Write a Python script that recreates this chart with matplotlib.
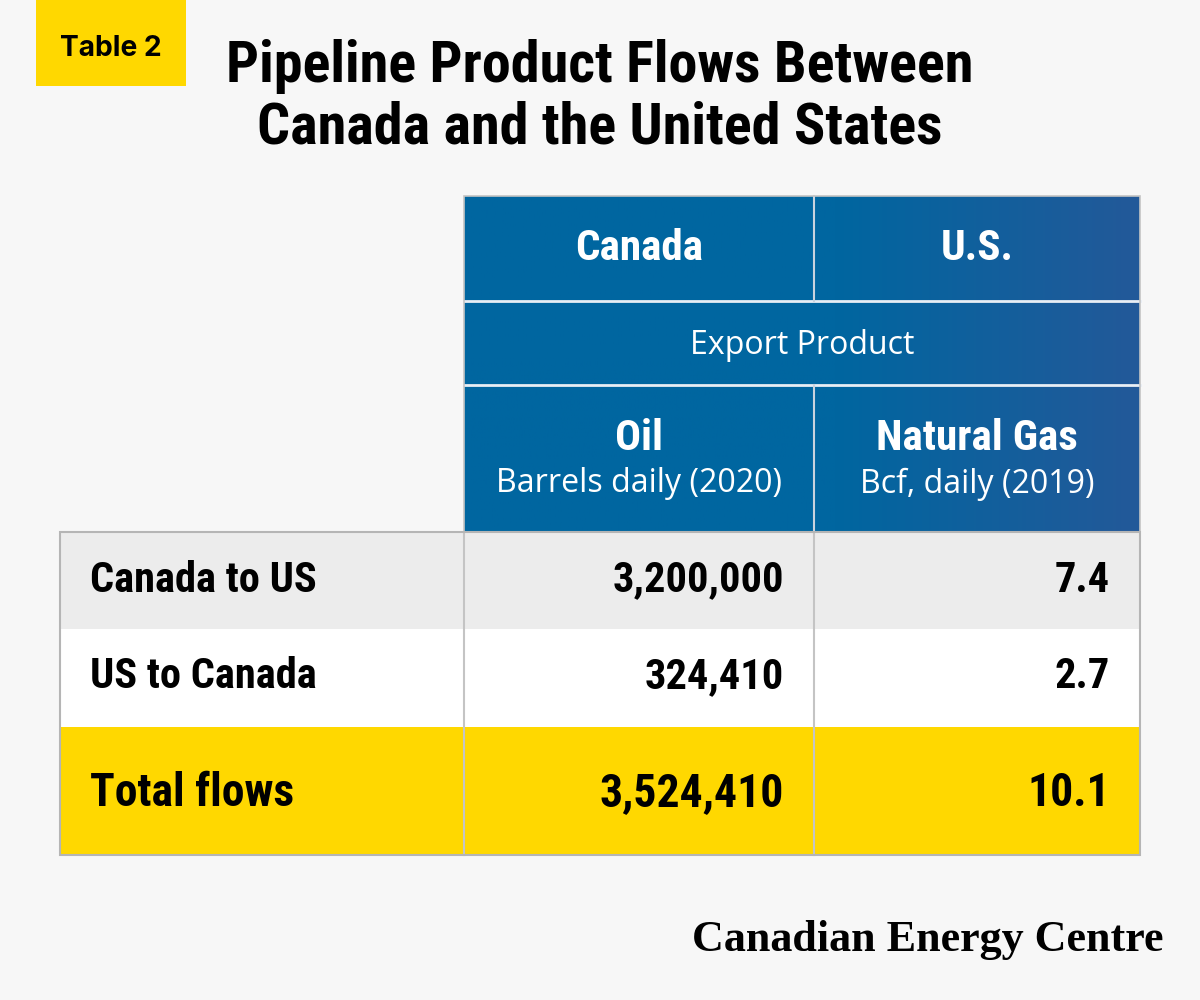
import matplotlib
matplotlib.use("Agg")
import matplotlib.pyplot as plt
from matplotlib import font_manager
from matplotlib.patches import Rectangle
import numpy as np

# table content
col_groups = ["Canada", "U.S."]
subheader = "Export Product"
products = ["Oil", "Natural Gas"]
units = ["Barrels daily (2020)", "Bcf, daily (2019)"]
row_labels = ["Canada to US", "US to Canada", "Total flows"]
oil_values = [3200000, 324410, 3524410]
gas_values = [7.4, 2.7, 10.1]

TITLE_LINES = ["Pipeline Product Flows Between", "Canada and the United States"]
TAG = "Table 2"
SOURCE = "Canadian Energy Centre"

BG = "#f7f7f7"
YELLOW = "#ffd800"
BLUE_L = np.array([0, 102, 160]) / 255
BLUE_R = np.array([35, 89, 153]) / 255
GRID = "#c4c4c4"

installed = {f.name for f in font_manager.fontManager.ttflist}
COND = next((n for n in ["Roboto Condensed", "Liberation Sans Narrow", "Open Sans Condensed",
                         "DejaVu Sans Condensed"] if n in installed), "DejaVu Sans")
SANS = "Open Sans" if "Open Sans" in installed else "DejaVu Sans"
# the original face is narrower than Roboto Condensed; trade a little width for height
COND_BOOST = 1.08

fig = plt.figure(figsize=(12, 10), dpi=100, facecolor=BG)
ax = fig.add_axes([0, 0, 1, 1])
ax.set_xlim(0, 1200)
ax.set_ylim(1000, 0)
ax.axis("off")
renderer = fig.canvas.get_renderer()


def fit(t, width, boost=1.0):
    """Scale a text's font size so it spans `width` pixels."""
    t.set_fontsize(20)
    w = t.get_window_extent(renderer).width
    t.set_fontsize(20 * width / w * boost)
    return t.get_fontsize()


def cond_text(x, y, s, **kw):
    kw.setdefault("fontweight", "bold")
    return ax.text(x, y, s, family=COND, stretch="condensed", va="center", zorder=5, **kw)


# tag box + title
ax.add_patch(Rectangle((36, 0), 150, 86, color=YELLOW, lw=0))
t = ax.text(111, 49, TAG, ha="center", va="center", fontweight="bold",
            family=["Inter", "DejaVu Sans"])
fit(t, 102)
t1 = cond_text(600, 66, TITLE_LINES[0], ha="center")
fs = fit(t1, 690, COND_BOOST)
t2 = cond_text(600, 128, TITLE_LINES[1], ha="center", fontsize=fs)

# column geometry
x_left, x_mid, x_c2, x_right = 60, 464, 814, 1140
y_head = [196, 301, 385, 532]
y_rows = [532, 629, 727, 855]

# blue header with horizontal gradient toward the right edge
grad = np.linspace(0, 1, 256)
grad = np.clip((grad - 0.55) / 0.45, 0, 1)
img = BLUE_L[None, :] * (1 - grad[:, None]) + BLUE_R[None, :] * grad[:, None]
ax.imshow(img[None, :, :], extent=(x_mid, x_right, y_head[-1], y_head[0]),
          aspect="auto", zorder=1)

for y in y_head[1:3]:
    ax.plot([x_mid, x_right], [y, y], color="#e8eef5", lw=2, zorder=3)
for y0, y1 in [(y_head[0], y_head[1]), (y_head[2], y_head[3])]:
    ax.plot([x_c2, x_c2], [y0, y1], color="#c9d3de", lw=1.5, zorder=3)
ax.add_patch(Rectangle((x_mid, y_head[0]), x_right - x_mid, y_head[-1] - y_head[0],
                       fill=False, ec=GRID, lw=1.2, zorder=4))

centers = [(x_mid + x_c2) / 2, (x_c2 + x_right) / 2]
h = cond_text(centers[0], 248, col_groups[0], ha="center", color="white")
hs = fit(h, 119, COND_BOOST)
cond_text(centers[1], 248, col_groups[1], ha="center", color="white", fontsize=hs)

e = ax.text((x_mid + x_right) / 2, 345, subheader, ha="center", va="center", color="white",
            family=SANS, zorder=5)
us = fit(e, 224)
for cx, prod, unit in zip(centers, products, units):
    cond_text(cx, 438, prod, ha="center", color="white", fontsize=hs)
    ax.text(cx, 484, unit, ha="center", va="center", color="white", fontsize=us,
            family=SANS, zorder=5)

# body rows
row_fill = ["#ececec", "white", YELLOW]
r = cond_text(90, 580, row_labels[0], ha="left")
rs = fit(r, 210, COND_BOOST)
r.remove()
tt = cond_text(90, 793, row_labels[-1], ha="left")
ts = fit(tt, 189, COND_BOOST)
tt.remove()
row_mid = [580, 677, 793]
for i, lab in enumerate(row_labels):
    y0, y1 = y_rows[i], y_rows[i + 1]
    ax.add_patch(Rectangle((x_left, y0), x_right - x_left, y1 - y0, color=row_fill[i], lw=0))
    fs_row = ts if i == len(row_labels) - 1 else rs
    cond_text(90, row_mid[i], lab, ha="left", fontsize=fs_row)
    cond_text(x_c2 - 30, row_mid[i], f"{oil_values[i]:,}", ha="right", fontsize=fs_row)
    cond_text(x_right - 30, row_mid[i], f"{gas_values[i]:.1f}", ha="right", fontsize=fs_row)

for x in [x_mid, x_c2]:
    ax.plot([x, x], [y_rows[0], y_rows[-1]], color=GRID, lw=1.5, zorder=3)
ax.add_patch(Rectangle((x_left, y_rows[0]), x_right - x_left, y_rows[-1] - y_rows[0],
                       fill=False, ec="#b5b5b5", lw=1.5, zorder=4))

s = ax.text(1164, 940, SOURCE, ha="right", va="center", fontweight="bold",
            family=["Liberation Serif", "DejaVu Serif"])
fit(s, 473)

fig.savefig("out.png", dpi=100, facecolor=BG)
